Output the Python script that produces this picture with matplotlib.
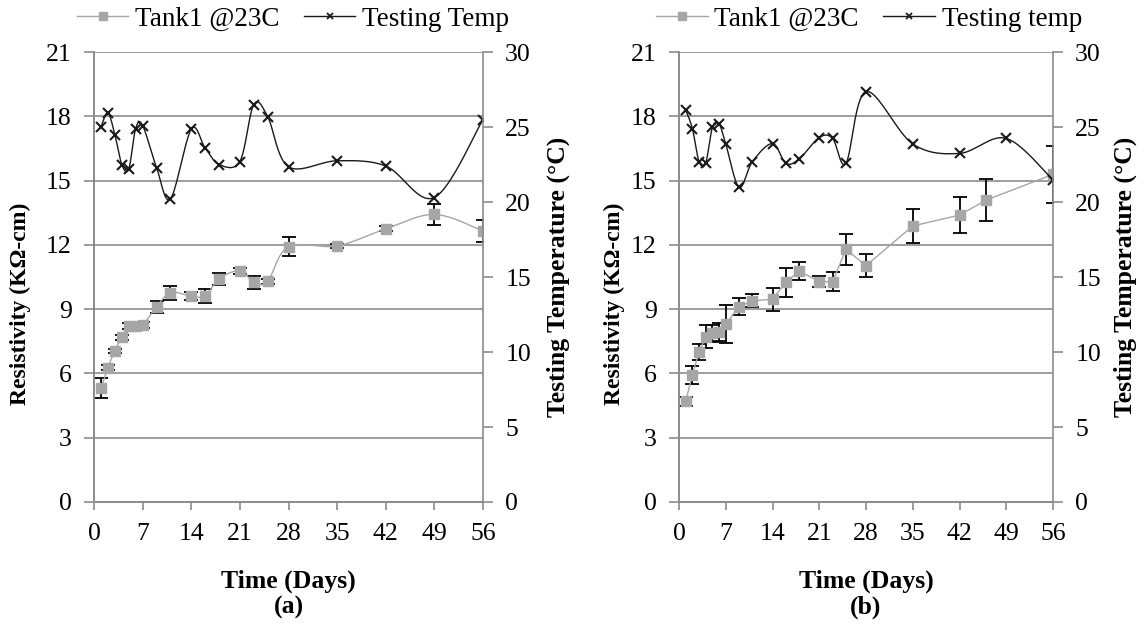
import numpy as np
import matplotlib
matplotlib.use("Agg")
import matplotlib.pyplot as plt
from matplotlib.lines import Line2D

plt.rcParams['font.family'] = ['Liberation Serif', 'DejaVu Serif']
plt.rcParams['mathtext.fontset'] = 'stix'

# ---------------- data ----------------
days_res_a = [1, 2, 3, 4, 5, 6, 7, 9, 11, 14, 16, 18, 21, 23, 25, 28, 35, 42, 49, 56]
res_a = [5.31, 6.27, 7.06, 7.68, 8.21, 8.21, 8.26, 9.11, 9.77, 9.61, 9.61, 10.42,
         10.79, 10.25, 10.3, 11.91, 11.95, 12.75, 13.42, 12.65]
err_a = [0.47, 0.12, 0.1, 0.12, 0.15, 0.12, 0.12, 0.27, 0.33, 0.2, 0.31, 0.29,
         0.15, 0.31, 0.12, 0.44, 0.1, 0.12, 0.49, 0.5]
days_temp_a = [1, 2, 3, 4, 5, 6, 7, 9, 11, 14, 16, 18, 21, 23, 25, 28, 35, 42, 49, 56]
temp_a = [25.0, 25.95, 24.5, 22.5, 22.2, 24.9, 25.1, 22.3, 20.2, 24.85, 23.6, 22.5,
          22.7, 26.5, 25.7, 22.35, 22.75, 22.4, 20.3, 25.5]

days_res_b = [1, 2, 3, 4, 5, 6, 7, 9, 11, 14, 16, 18, 21, 23, 25, 28, 35, 42, 46, 56]
res_b = [4.7, 5.93, 7.01, 7.71, 7.87, 7.95, 8.31, 9.11, 9.39, 9.46, 10.25, 10.78,
         10.28, 10.28, 11.79, 11.03, 12.88, 13.39, 14.09, 15.29]
err_b = [0.2, 0.43, 0.36, 0.54, 0.39, 0.42, 0.87, 0.39, 0.31, 0.54, 0.66, 0.4,
         0.26, 0.44, 0.74, 0.54, 0.78, 0.83, 0.97, 1.32]
days_temp_b = [1, 2, 3, 4, 5, 6, 7, 9, 11, 14, 16, 18, 21, 23, 25, 28, 35, 42, 49, 56]
temp_b = [26.13, 24.9, 22.7, 22.6, 24.98, 25.2, 23.87, 20.98, 22.7, 23.9, 22.58, 22.87,
          24.3, 24.24, 22.58, 27.36, 23.87, 23.24, 24.24, 21.47]

x_ticks = [0, 7, 14, 21, 28, 35, 42, 49, 56]
res_ticks = [0, 3, 6, 9, 12, 15, 18, 21]
temp_ticks = [0, 5, 10, 15, 20, 25, 30]

res_label = "Tank1 @23C"
temp_labels = ["Testing Temp", "Testing temp"]
panel_labels = ["(a)", "(b)"]

GRID = '#8c8c8c'
RESC = '#a6a6a6'
FS = 18.5


def smooth(x, y, n=24):
    """Excel-like smoothed curve (Catmull-Rom Bezier) through the data points."""
    x = np.asarray(x, float)
    y = np.asarray(y, float)
    P = np.column_stack([x, y])
    Pe = np.vstack([P[0], P, P[-1]])
    t = np.linspace(0, 1, n)[:, None]
    segs = []
    for i in range(len(P) - 1):
        p0, p1, p2, p3 = Pe[i], Pe[i + 1], Pe[i + 2], Pe[i + 3]
        b1 = p1 + (p2 - p0) / 6.0
        b2 = p2 - (p3 - p1) / 6.0
        c = ((1 - t) ** 3) * p1 + 3 * ((1 - t) ** 2) * t * b1 + 3 * (1 - t) * t ** 2 * b2 + t ** 3 * p2
        segs.append(c if i == 0 else c[1:])
    c = np.vstack(segs)
    return c[:, 0], c[:, 1]


fig = plt.figure(figsize=(11.47, 6.28), dpi=100)

panels = [
    (94, 483, days_res_a, res_a, err_a, days_temp_a, temp_a, True, -0.163, 1.163),
    (679, 1053, days_res_b, res_b, err_b, days_temp_b, temp_b, False, -0.145, 1.163),
]

W, H = 1147, 628
for k, (x0, x1, dr, r, e, dt, tp, smooth_res, ylx, yrx) in enumerate(panels):
    ax = fig.add_axes([x0 / W, 1 - 502 / H, (x1 - x0) / W, 450 / H])
    ax2 = ax.twinx()

    ax.set_xlim(0, 56)
    ax.set_ylim(0, 21)
    ax2.set_ylim(0, 30)
    ax.set_xticks(x_ticks)
    ax.set_yticks(res_ticks)
    ax2.set_yticks(temp_ticks)

    ax.grid(axis='y', color=GRID, lw=1.2)
    ax.set_axisbelow(True)

    for a in (ax, ax2):
        for s in a.spines.values():
            s.set_color(GRID)
            s.set_linewidth(1.2)
        a.spines['top'].set_visible(False)
    ax.spines['right'].set_visible(False)

    ax.tick_params(axis='x', direction='out', length=6, width=1.2, color=GRID,
                   labelsize=FS, pad=9)
    ax.tick_params(axis='y', direction='out', length=7, width=1.2, color=GRID,
                   labelsize=FS, pad=9)
    ax2.tick_params(axis='y', direction='out', length=7, width=1.2, color=GRID,
                    labelsize=FS, pad=9)

    # resistivity series
    ax.errorbar(dr, r, yerr=e, fmt='none', ecolor='black', elinewidth=1.3,
                capsize=5, capthick=1.3, zorder=2)
    if smooth_res:
        sx, sy = smooth(dr, r)
        ax.plot(sx, sy, color=RESC, lw=1.0, zorder=3)
    else:
        ax.plot(dr, r, color=RESC, lw=1.0, zorder=3)
    ax.plot(dr, r, ls='none', marker='s', ms=7, color=RESC, mec=RESC, zorder=4)

    # temperature series
    tx, ty = smooth(dt, tp)
    ax2.plot(tx, ty, color='#1a1a1a', lw=1.0)
    ax2.plot(dt, tp, ls='none', marker='x', ms=6.5, mew=1.5, color='#1a1a1a')

    ax.set_ylabel("Resistivity (K\u03a9-cm)", fontsize=17, fontweight='bold')
    ax.yaxis.set_label_coords(ylx, 0.44)
    ax2.set_ylabel("Testing Temperature (\u00b0C)", fontsize=18.5, fontweight='bold')
    ax2.yaxis.set_label_coords(yrx, 0.5)

    ax.set_xlabel("Time (Days)\n" + panel_labels[k], fontsize=18.5, fontweight='bold',
                  linespacing=1.15, labelpad=18)

    handles = [
        Line2D([], [], color=RESC, lw=1.0, marker='s', ms=6, mec=RESC),
        Line2D([], [], color='#1a1a1a', lw=1.0, marker='x', ms=5, mew=1.3),
    ]
    cx = [293, 869][k] / W
    fig.legend(handles, [res_label, temp_labels[k]], loc='center', ncol=2,
               bbox_to_anchor=(cx, 1 - 19 / H), frameon=False, fontsize=19.5,
               handlelength=1.9, handletextpad=0.25, columnspacing=0.9,
               borderpad=0, borderaxespad=0)

fig.savefig("out.png", dpi=100)
